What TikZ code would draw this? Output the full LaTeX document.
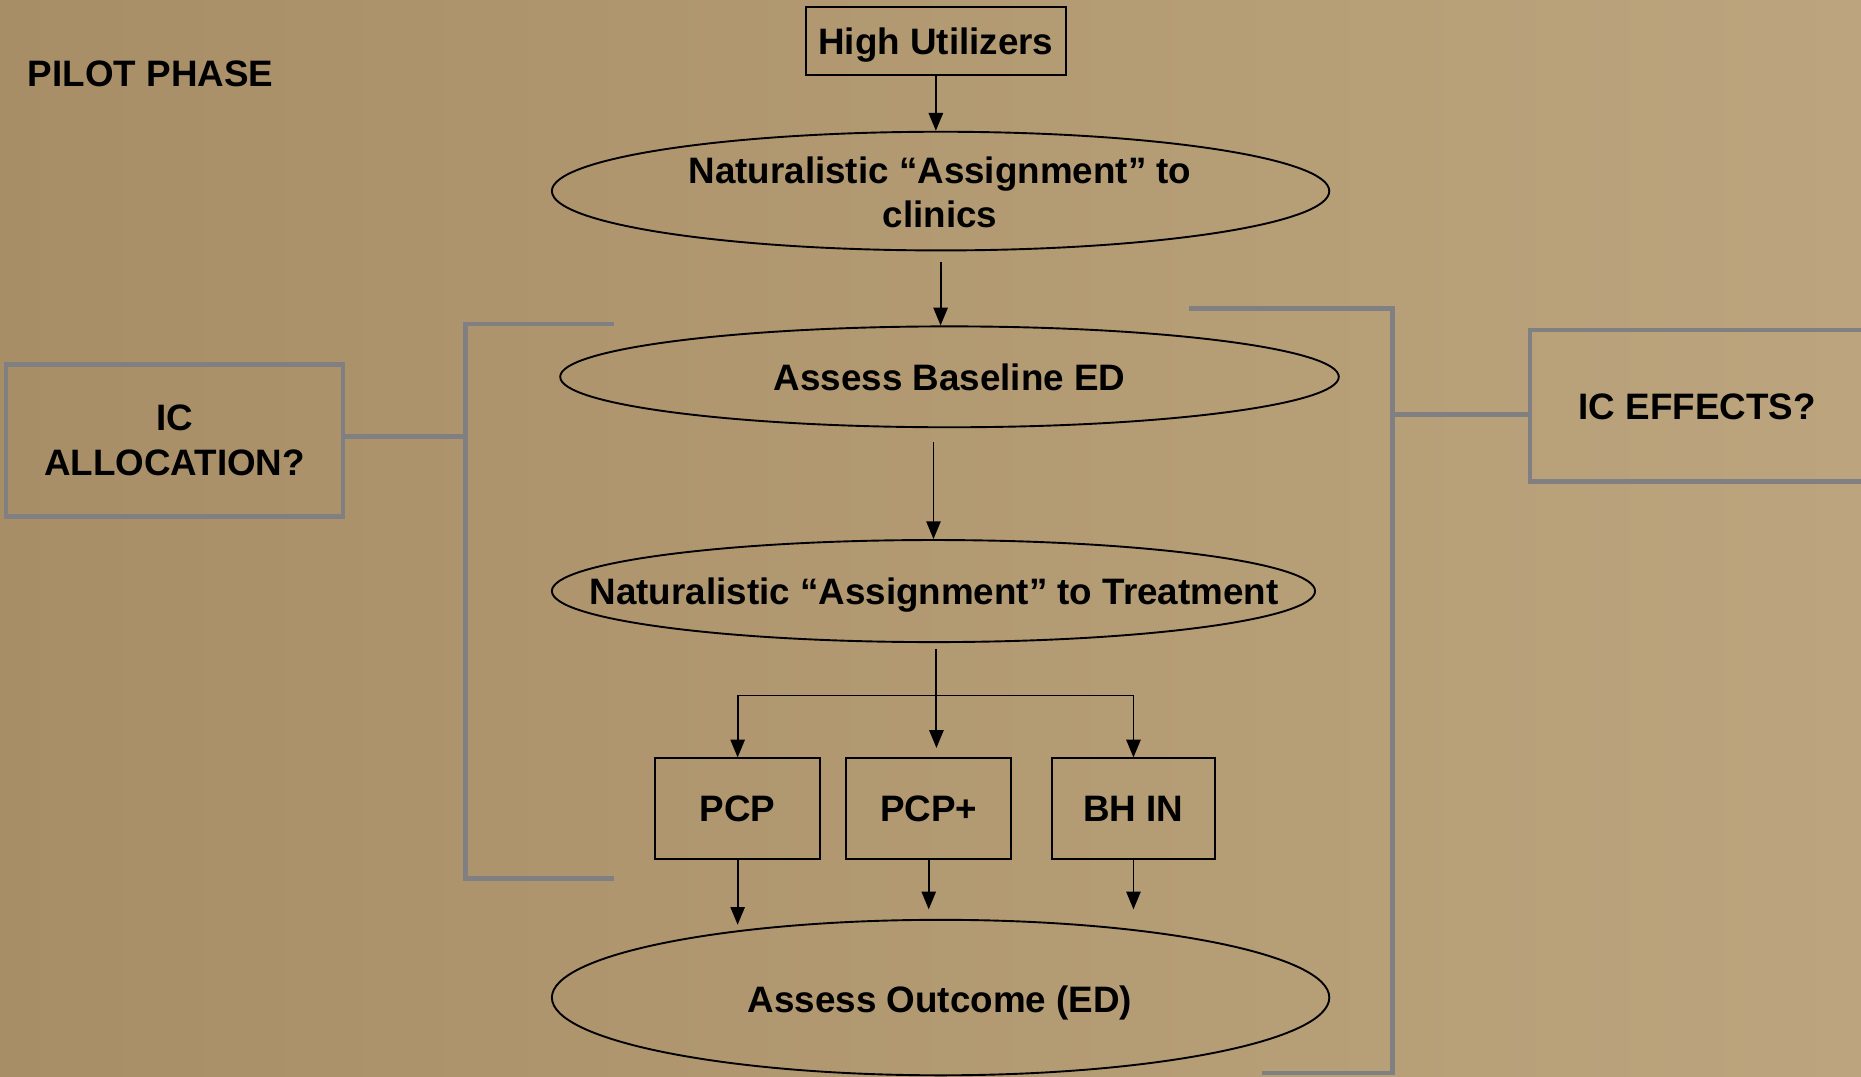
\documentclass[tikz,border=0pt]{standalone}
\usepackage{fontspec}
\setmainfont{Liberation Sans}
\usetikzlibrary{arrows.meta,shapes.geometric,calc}
\definecolor{bgl}{RGB}{188,165,126}
\definecolor{bgd}{RGB}{168,142,102}
\definecolor{brk}{RGB}{128,128,130}
\begin{document}
\begin{tikzpicture}[x=1pt,y=-1pt,
  every node/.style={font=\fontsize{31}{37.5}\selectfont\bfseries, text=black},
  box/.style={draw=black, line width=1.6pt, rectangle, inner sep=0pt},
  oval/.style={draw=black, line width=1.6pt, ellipse, inner sep=0pt},
  arr/.style={draw=black, line width=1.6pt, -{Triangle[length=15pt,width=12pt]}},
  ln/.style={draw=black, line width=1.6pt},
  gline/.style={draw=brk, line width=4pt},
  gbox/.style={draw=brk, line width=4pt, rectangle, inner sep=0pt, align=center}]
\useasboundingbox (0,0) rectangle (1568,907);
\shade[left color=bgd, right color=bgl] (0,0) rectangle (1568,907);
\clip (0,0) rectangle (1568,907);

% title
\node[anchor=west] (title) at (20,62) {PILOT PHASE};

% main flow
\node[box, minimum width=219pt, minimum height=57pt, text depth=0pt] (hu) at (788.5,34.5) {High Utilizers};
\node[oval, minimum width=655pt, minimum height=100pt] (e1) at (792.5,161) {};
\node[align=center] (t1) at (792,162) {Naturalistic “Assignment” to\\clinics};
\node[oval, minimum width=656pt, minimum height=85pt] (e2) at (800,317.5) {};
\node (t2) at (800,318) {Assess Baseline ED};
\node[oval, minimum width=643pt, minimum height=86pt] (e3) at (786.5,498) {};
\node (t3) at (787,501) {Naturalistic “Assignment” to Treatment};
\node[box, minimum width=139pt, minimum height=85pt] (pcp) at (621.5,681.5) {PCP};
\node[box, minimum width=139pt, minimum height=85pt] (pcpp) at (782.5,681.5) {PCP+};
\node[box, minimum width=138pt, minimum height=85pt] (bh) at (955,681.5) {BH IN};
\node[oval, minimum width=655pt, minimum height=131pt] (e4) at (792.5,840.5) {};
\node (t4) at (792,845) {Assess Outcome (ED)};

% side boxes
\node[gbox, minimum width=284pt, minimum height=128pt] (alloc) at (147,371) {IC\\ALLOCATION?};
\node[gbox, minimum width=320pt, minimum height=128pt] (eff) at (1449,342) {};
\node (efft) at (1430,343) {IC EFFECTS?};

% connectors
\draw[arr] (hu.south) -- (hu.south |- e1.north);
\draw[arr, shorten <=9pt] (e1.south) -- (e1.south |- e2.north);
\draw[arr, shorten <=12pt] (e2.south -| e3.north) -- (e3.north);
\coordinate (j) at (789,586);
\draw[ln, shorten <=5pt] (e3.south -| j) -- (j);
\draw[arr] (j) -| (pcp.north);
\draw[arr] (j) -| (bh.north);
\draw[arr, shorten >=8pt] (j) -- (j |- pcpp.north);
\draw[arr] (pcp.south) -- ($(pcp.south |- e4.north)+(0,5)$);
\draw[arr, shorten >=8pt] (pcpp.south) -- (pcpp.south |- e4.north);
\draw[arr] (bh.south) -- ($(bh.south |- e4.north)+(0,-8)$);

% grey brackets
\draw[gline] (517,273) -- (392,273) -- (392,740) -- (517,740);
\coordinate (lb) at (392,368);
\draw[gline] (alloc.east |- lb) -- (lb);
\draw[gline] (1002,260) -- (1173,260) -- (1173,904) -- (1063,904);
\coordinate (rb) at (1173,349);
\draw[gline] (rb) -- (rb -| eff.west);
\end{tikzpicture}
\end{document}
